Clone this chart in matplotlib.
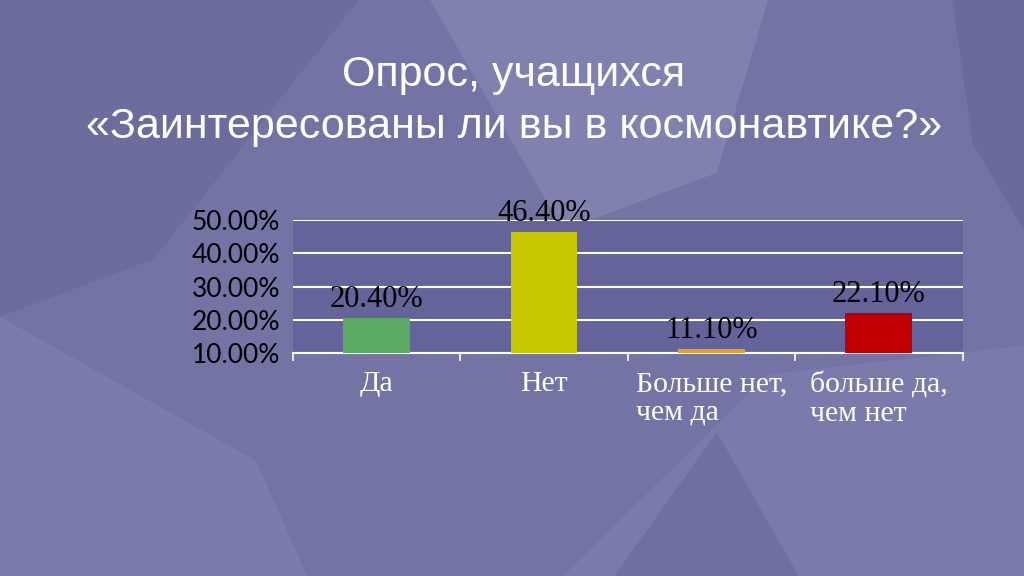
import matplotlib
matplotlib.use("Agg")
import matplotlib.pyplot as plt
from matplotlib.patches import Polygon
import numpy as np

categories = ["Да", "Нет", "Больше нет,\nчем да", "больше да,\nчем нет"]
values = [20.40, 46.40, 11.10, 22.10]
bar_colors = ["#5aaa62", "#c8c800", "#e8a020", "#c00000"]
yticks = [10, 20, 30, 40, 50]
title = "Опрос, учащихся\n«Заинтересованы ли вы в космонавтике?»"

fig = plt.figure(figsize=(10.24, 5.76), dpi=100)
fig.patch.set_facecolor("#7474a4")

# decorative background swooshes on a background axes
bg = fig.add_axes([0, 0, 1, 1], zorder=-10)
bg.set_xlim(0, 1)
bg.set_ylim(0, 1)
bg.axis("off")
shapes = [
    ([(0.0, 1.0), (0.35, 1.0), (0.15, 0.55), (0.0, 0.45)], "#5e5e90", 0.35),
    ([(0.42, 1.0), (0.75, 1.0), (0.70, 0.70), (0.55, 0.60)], "#9a9ac4", 0.35),
    ([(0.0, 0.0), (0.0, 0.45), (0.25, 0.20), (0.30, 0.0)], "#8c8cbc", 0.35),
    ([(0.55, 0.0), (0.75, 0.35), (1.0, 0.40), (1.0, 0.0)], "#8a8aba", 0.35),
    ([(0.60, 0.0), (0.70, 0.25), (0.78, 0.0)], "#5a5a8c", 0.35),
    ([(0.93, 1.0), (1.0, 1.0), (1.0, 0.6), (0.95, 0.75)], "#5c5c8e", 0.4),
]
for pts, col, a in shapes:
    bg.add_patch(Polygon(pts, closed=True, facecolor=col, alpha=a, edgecolor="none"))

fig.text(0.502, 0.825, title, ha="center", va="center", color="white",
         fontsize=31, family="Liberation Sans", linespacing=1.37)

ax = fig.add_axes([0.286, 0.387, 0.654, 0.231])
ax.set_facecolor("#64649a")
x = np.arange(len(categories))
ax.bar(x, [v - 10 for v in values], bottom=10, width=0.4, color=bar_colors, zorder=3)
ax.set_xlim(-0.5, len(categories) - 0.5)
ax.set_ylim(10, 50)
ax.set_yticks(yticks)
ax.set_yticklabels([f"{t:.2f}%" for t in yticks], fontsize=19, family="Lato", color="black")
ax.tick_params(axis="y", length=0, pad=9)
ax.grid(axis="y", color="white", linewidth=1.5, zorder=1)
for s in ["left", "right", "top"]:
    ax.spines[s].set_visible(False)
ax.spines["bottom"].set_color("white")
ax.spines["bottom"].set_linewidth(1.5)

ax.set_xticks(np.arange(-0.5, len(categories), 1.0))
ax.set_xticklabels([])
ax.tick_params(axis="x", length=6, width=1.2, color="white", direction="out")
for i, c in enumerate(categories):
    ax.text(i, 4.6, c, ha="center", va="top",
            multialignment="left", color="white", fontsize=21.5,
            family="Liberation Serif", linespacing=1.13)

for i, v in enumerate(values):
    ax.annotate(f"{v:.2f}%", (i, v), xytext=(0, 3), textcoords="offset points",
                ha="center", va="bottom", fontsize=22, family="Liberation Serif",
                color="black", annotation_clip=False)

fig.savefig("out.png", dpi=100, facecolor=fig.get_facecolor())
